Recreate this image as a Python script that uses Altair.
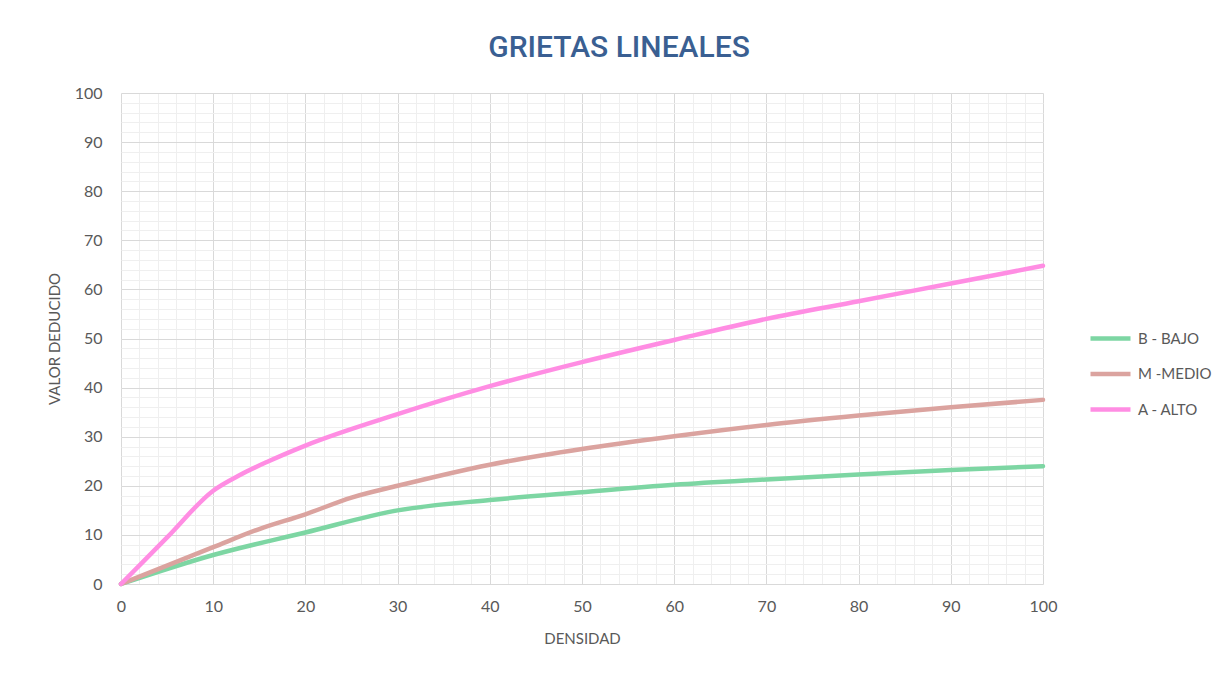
import altair as alt
import pandas as pd

# Data
series = ["B - BAJO", "M -MEDIO", "A - ALTO"]
colors = ["#7DD6A3", "#DBA39F", "#FF8DE3"]

b_x = [0, 10, 20, 30, 40, 50, 60, 70, 80, 90, 100]
b_y = [0, 5.9, 10.5, 15.0, 17.1, 18.7, 20.2, 21.3, 22.3, 23.2, 24.0]

m_x = [0, 10, 15, 20, 25, 30, 40, 50, 60, 70, 80, 90, 100]
m_y = [0, 7.5, 11.2, 14.2, 17.6, 20.0, 24.3, 27.5, 30.1, 32.4, 34.3, 36.0, 37.5]

a_x = [0, 5, 10, 13, 16, 20, 30, 40, 50, 60, 70, 80, 90, 100]
a_y = [0, 9.5, 19.0, 22.3, 25.0, 28.2, 34.6, 40.3, 45.2, 49.7, 54.0, 57.6, 61.2, 64.8]

x_major = list(range(0, 101, 10))
x_minor = list(range(0, 101, 2))
y_major = list(range(0, 101, 10))
y_minor = list(range(0, 101, 2))

rows = []
for name, xs, ys in [(series[0], b_x, b_y), (series[1], m_x, m_y), (series[2], a_x, a_y)]:
    for i, (xv, yv) in enumerate(zip(xs, ys)):
        rows.append({"serie": name, "densidad": xv, "valor": yv, "orden": i})
df = pd.DataFrame(rows)

FONT = "Lato"
LABEL = "#595959"

xscale = alt.Scale(domain=[0, 100], nice=False, zero=True)
yscale = alt.Scale(domain=[0, 100], nice=False, zero=True)

minor = alt.Chart(df).mark_point(opacity=0).encode(
    x=alt.X("densidad:Q", scale=xscale,
            axis=alt.Axis(values=x_minor, grid=True, gridColor="#EFEFEF", gridWidth=1,
                          labels=False, ticks=False, domain=False, title=None, orient="bottom")),
    y=alt.Y("valor:Q", scale=yscale,
            axis=alt.Axis(values=y_minor, grid=True, gridColor="#EFEFEF", gridWidth=1,
                          labels=False, ticks=False, domain=False, title=None, orient="left")),
)

lines = alt.Chart(df).mark_line(interpolate="monotone", strokeWidth=4.5, strokeCap="round").encode(
    x=alt.X("densidad:Q", scale=xscale,
            axis=alt.Axis(values=x_major, grid=True, gridColor="#D9D9D9", gridWidth=1,
                          ticks=False, tickSize=0, domain=False, title="DENSIDAD",
                          labelFont=FONT, labelFontSize=16, labelColor=LABEL, labelPadding=14,
                          labelFlush=False,
                          titleFont=FONT, titleFontSize=15, titleFontWeight="normal",
                          titleColor=LABEL, titlePadding=17, orient="bottom")),
    y=alt.Y("valor:Q", scale=yscale,
            axis=alt.Axis(values=y_major, grid=True, gridColor="#D9D9D9", gridWidth=1,
                          ticks=False, tickSize=0, domain=False, title="VALOR DEDUCIDO",
                          labelFont=FONT, labelFontSize=16, labelColor=LABEL, labelPadding=19,
                          labelFlush=False,
                          titleFont=FONT, titleFontSize=15, titleFontWeight="normal",
                          titleColor=LABEL, titlePadding=12, orient="left")),
    color=alt.Color("serie:N", scale=alt.Scale(domain=series, range=colors),
                    sort=series,
                    legend=alt.Legend(title=None, orient="none", legendX=967, legendY=223,
                                      symbolType="stroke", symbolSize=1600, symbolStrokeWidth=4.5,
                                      labelFont=FONT, labelFontSize=15, labelColor=LABEL,
                                      labelOffset=5, rowPadding=3.5, labelLimit=300)),
    order=alt.Order("orden:Q"),
)

chart = alt.layer(minor, lines).resolve_axis(x="independent", y="independent").properties(
    width=922,
    height=491,
    autosize=alt.AutoSizeParams(type="none"),
    padding={"left": 113, "top": 85, "right": 169, "bottom": 80},
    title=alt.TitleParams("GRIETAS LINEALES", font="Roboto", fontSize=30, fontWeight=500,
                          color="#3A5F92", anchor="middle", dx=37, offset=22),
    background="white",
).configure_view(stroke=None)

chart.save("out.html", embed_options={"renderer": "svg", "actions": False})
